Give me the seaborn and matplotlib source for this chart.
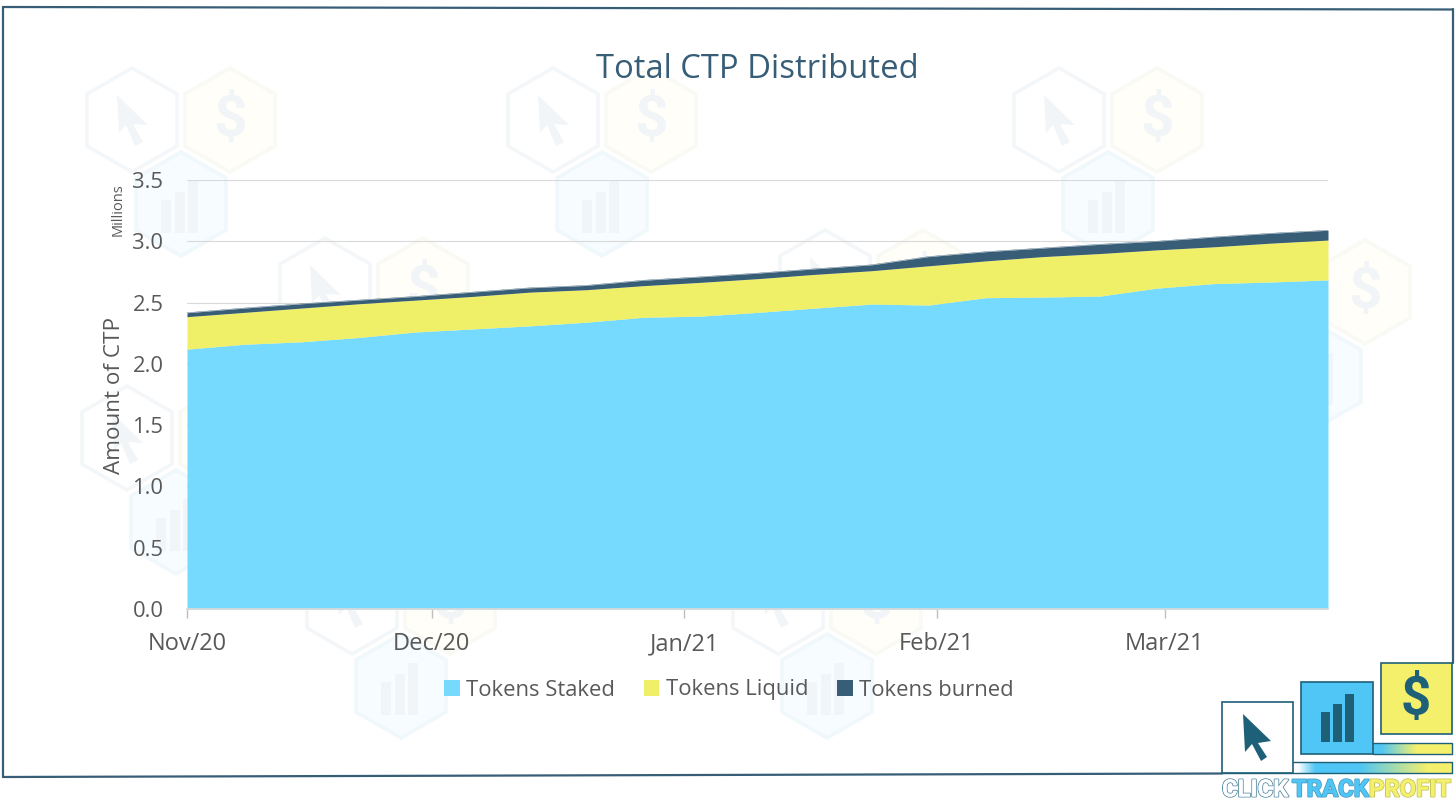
#!/usr/bin/env python3
"""Total CTP Distributed - stacked area chart with the watermark and logo."""

import numpy as np
import pandas as pd
import matplotlib
matplotlib.use("Agg")
import matplotlib.pyplot as plt
import matplotlib.dates as mdates
import matplotlib.patheffects as pe
from matplotlib.colors import LinearSegmentedColormap
from matplotlib.patches import Polygon, Rectangle
import seaborn as sns

W, H = 1456, 811

START_DATE = "2020-11-01"
N_WEEKS = 21

# totals, in millions
staked_top = [2.12, 2.16, 2.18, 2.215, 2.26, 2.285, 2.31, 2.34, 2.38, 2.39, 2.42,
              2.455, 2.488, 2.48, 2.54, 2.545, 2.553, 2.618, 2.655, 2.668, 2.685]
liquid_top = [2.385, 2.42, 2.455, 2.49, 2.52, 2.55, 2.585, 2.605, 2.638, 2.665, 2.695,
              2.73, 2.76, 2.80, 2.84, 2.875, 2.90, 2.93, 2.955, 2.985, 3.01]
burned_top = [2.417, 2.455, 2.49, 2.52, 2.55, 2.585, 2.62, 2.64, 2.682, 2.71, 2.74,
              2.775, 2.808, 2.875, 2.915, 2.945, 2.975, 3.00, 3.035, 3.065, 3.09]

series_names = ["Tokens Staked", "Tokens Liquid", "Tokens burned"]
series_colors = ["#76DAFF", "#F0F068", "#375D77"]
y_ticks = [0.0, 0.5, 1.0, 1.5, 2.0, 2.5, 3.0, 3.5]
x_tick_dates = ["2020-11-01", "2020-12-01", "2021-01-01", "2021-02-01", "2021-03-01"]
x_tick_labels = ["Nov/20", "Dec/20", "Jan/21", "Feb/21", "Mar/21"]

# cursor hex centre of every watermark group, in pixels
watermark_spots = [(132, 120), (553, 120), (1059, 120), (325, 290), (1267, 292),
                   (127, 438), (825, 282), (352, 602), (778, 602)]

DARK = "#375D77"
TEXT = "#595959"
LOGO = "#1F6079"
LOGO_BLUE = "#4FC6F5"
LOGO_YELLOW = "#F5F06C"


def hexagon(ax, cx, cy, edge, face, lw=2.6, r=52):
    angles = np.radians([90, 150, 210, 270, 330, 30])
    pts = np.column_stack([cx + r * np.cos(angles), cy + r * np.sin(angles)])
    ax.add_patch(Polygon(pts, closed=True, fc=face, ec=edge, lw=lw))


def cursor(ax, x, y, color):
    # arrow pointer, tip at (x, y)
    shape = np.array([[0, 0], [2, 38], [9, 30], [18, 51], [26, 47], [16, 29], [31, 30]])
    ax.add_patch(Polygon(shape + [x, y], closed=True, fc=color, ec="none"))


def draw_watermark(ax, cx, cy):
    edge = "#F4F7F9"
    ink = "#F2F5F7"
    hexagon(ax, cx, cy, edge, "#FFFFFF")
    cursor(ax, cx - 15, cy - 25, ink)
    hexagon(ax, cx + 98, cy, "#F9FAF4", "#FFFEF8")
    ax.text(cx + 98, cy + 1, "$", fontsize=42, fontweight="bold", color=ink,
            ha="center", va="center", family="Roboto")
    hexagon(ax, cx + 49, cy + 84, "#F0F8FB", "#F6FCFF")
    for x0, top in zip((-20, -6, 7), (-4, -12, -23)):
        ax.add_patch(Rectangle((cx + 49 + x0, cy + 84 + top), 10, 29 - top,
                               fc=ink, ec="none"))


def draw_gradient(ax, x0, x1, y0, y1, stops):
    cmap = LinearSegmentedColormap.from_list("strip", stops)
    ax.imshow(np.linspace(0, 1, 256)[None, :], cmap=cmap, aspect="auto",
              extent=(x0, x1, y1, y0), zorder=3)


def draw_logo(ax):
    white_box = Rectangle((1222, 702), 71, 71, fc="white", ec=LOGO, lw=1.2, zorder=4)
    blue_box = Rectangle((1301, 682), 72, 72, fc=LOGO_BLUE, ec=LOGO, lw=1.2, zorder=4)
    yellow_box = Rectangle((1381, 663), 71, 71, fc=LOGO_YELLOW, ec=LOGO, lw=1.2, zorder=4)
    for box in (white_box, blue_box, yellow_box):
        ax.add_patch(box)

    draw_gradient(ax, 1373, 1452, 743, 754,
                  [(0, LOGO_BLUE), (0.1, LOGO_BLUE), (0.55, LOGO_YELLOW), (1, LOGO_YELLOW)])
    draw_gradient(ax, 1293, 1452, 762, 773,
                  [(0, "#FFFFFF"), (0.03, "#FFFFFF"), (0.14, LOGO_BLUE), (0.42, LOGO_BLUE),
                   (0.85, LOGO_YELLOW), (1, LOGO_YELLOW)])
    ax.plot([1373, 1452, 1452, 1373], [743, 743, 754, 754], color=LOGO, lw=1.0, zorder=5)
    ax.plot([1293, 1452, 1452, 1222], [762, 762, 773, 773], color=LOGO, lw=1.0, zorder=5)

    arrow = np.array([[0, 0], [2, 38], [9, 30], [18, 47], [24, 43], [15, 29], [28, 27]])
    ax.add_patch(Polygon(arrow + [1243, 714], closed=True, fc=LOGO, ec="none", zorder=6))
    for x0, top in zip((1321, 1333, 1345), (712, 704, 694)):
        ax.add_patch(Rectangle((x0, top), 8.5, 742 - top, fc=LOGO, ec="none", zorder=6))
    ax.text(1416, 699, "$", fontsize=38, fontweight="bold", color=LOGO,
            ha="center", va="center", family="Roboto", zorder=6)

    words = [("CLICK", 1222, "#FFFFFF", "#5B8CA3"),
             ("TRACK", 1292, LOGO_BLUE, "#4A9CC4"),
             ("PROFIT", 1369, LOGO_YELLOW, "#C4C65C")]
    for word, x, fill, line in words:
        ax.text(x, 790, word, fontsize=17.2, fontweight="bold", color=fill,
                family="Roboto", ha="left", va="center", zorder=6,
                path_effects=[pe.withStroke(linewidth=1.4, foreground=line),
                              pe.Normal()])


def main():
    sns.set_theme(style="white")
    plt.rcParams["font.family"] = ["Open Sans", "DejaVu Sans"]

    dates = pd.date_range(START_DATE, periods=N_WEEKS, freq="7D")
    df = pd.DataFrame({"date": dates, "staked": staked_top,
                       "liquid": liquid_top, "burned": burned_top})

    fig = plt.figure(figsize=(W / 100, H / 100), dpi=100, facecolor="white")

    # full-figure layer in pixel coordinates for frame, watermark and logo
    bg = fig.add_axes([0, 0, 1, 1], zorder=0)
    bg.set_xlim(0, W)
    bg.set_ylim(H, 0)
    bg.axis("off")
    for cx, cy in watermark_spots:
        draw_watermark(bg, cx, cy)

    # chart
    ax = fig.add_axes([187 / W, 1 - 609 / H, (1328 - 187) / W, (609 - 180) / H], zorder=1)
    ax.patch.set_alpha(0)
    ax.grid(axis="y", color="#D9D9D9", lw=0.8)
    ax.set_axisbelow(True)

    bottoms = [np.zeros(N_WEEKS), df["staked"], df["liquid"]]
    tops = [df["staked"], df["liquid"], df["burned"]]
    for low, high, name, color in zip(bottoms, tops, series_names, series_colors):
        ax.fill_between(df["date"], low, high, color=color, lw=0, label=name, zorder=2)
        sns.lineplot(x=df["date"], y=high, color=color, lw=0.3, ax=ax, zorder=2, legend=False)

    ax.set_xlim(dates[0], dates[-1])
    ax.set_ylim(0, 3.5)
    ax.set_yticks(y_ticks)
    ax.set_yticklabels([f"{v:.1f}" for v in y_ticks], fontsize=15.8, color=TEXT)
    ax.set_xticks(pd.to_datetime(x_tick_dates))
    ax.set_xticklabels(x_tick_labels, fontsize=17, color=TEXT)
    ax.xaxis.set_major_locator(plt.FixedLocator(mdates.date2num(pd.to_datetime(x_tick_dates))))
    ax.tick_params(axis="x", length=6.5, width=1, color="#BFBFBF", pad=10, bottom=True)
    ax.tick_params(axis="y", length=0, pad=17)
    ax.set_xlabel("")
    ax.set_ylabel("")
    sns.despine(ax=ax, left=True, top=True, right=True)
    ax.spines["bottom"].set_color("#D9D9D9")

    handles, labels = ax.get_legend_handles_labels()
    fig.legend(handles, labels, loc="center", bbox_to_anchor=(729 / W, 1 - 690 / H), ncol=3,
               frameon=False, fontsize=15.8, labelcolor=TEXT, handlelength=0.72,
               handleheight=0.72, handletextpad=0.3, columnspacing=1.3)

    fig.text(757 / W, 1 - 70 / H, "Total CTP Distributed", fontsize=23.6, color="#375D77",
             ha="center", va="center")
    fig.text(115 / W, 1 - 395 / H, "Amount of CTP", fontsize=16.2, color=TEXT,
             rotation=90, ha="center", va="center")
    fig.text(118 / W, 1 - 210 / H, "Millions", fontsize=10.5, color=TEXT,
             rotation=90, ha="center", va="center")

    # frame and logo sit on top of everything
    top = fig.add_axes([0, 0, 1, 1], zorder=2)
    top.set_xlim(0, W)
    top.set_ylim(H, 0)
    top.axis("off")
    top.patch.set_alpha(0)
    top.plot([3, 3], [7, 777], color=DARK, lw=1.6)
    top.plot([3, 1453], [7, 9.5], color=DARK, lw=1.6)
    top.plot([1452.5, 1452.5], [9, 663], color=DARK, lw=1.6)
    top.plot([3, 1222], [777, 773.5], color=DARK, lw=1.6)
    draw_logo(top)
    top.set_xlim(0, W)
    top.set_ylim(H, 0)

    fig.savefig("out.png", dpi=100)
    plt.close(fig)


if __name__ == "__main__":
    main()
